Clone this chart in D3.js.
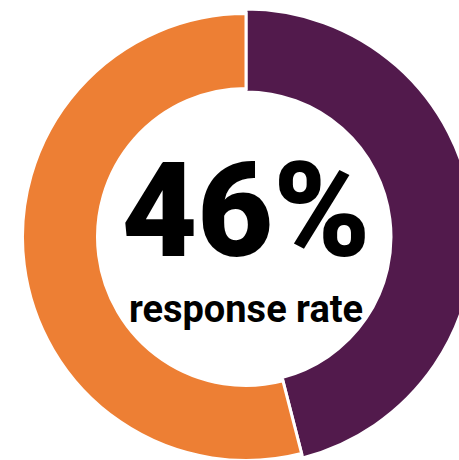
<!DOCTYPE html>
<html>
<head>
<meta charset="utf-8">
<script src="https://cdn.jsdelivr.net/npm/d3@7"></script>
<style>
  html, body { margin: 0; padding: 0; background: #fff; }
  svg { display: block; }
</style>
</head>
<body>
<script>
// slices, in drawing order (clockwise from 12 o'clock)
var categories = ['Responded', 'Did not respond']
var values = [46, 54]
var headline = '46%'
var caption = 'response rate'

var width = 459, height = 460
var cx = 246, cy = 237

var colors = d3.scaleOrdinal().domain(categories).range(['#521a4c', '#ed7f34'])

// the responded slice is drawn a bit wider than the rest
var radii = {
  'Responded': {inner: 145, outer: 228},
  'Did not respond': {inner: 148.5, outer: 223.5}
}

var svg = d3.select('body').append('svg')
    .attr('width', width).attr('height', height)

var g = svg.append('g').attr('transform', 'translate(' + cx + ',' + cy + ')')

var pie = d3.pie().sort(null).value(function(d){ return d.value })
var data = categories.map(function(c, i){ return {cat: c, value: values[i]} })

var arc = d3.arc()
    .innerRadius(function(d){ return radii[d.data.cat].inner })
    .outerRadius(function(d){ return radii[d.data.cat].outer })

g.selectAll('path')
  .data(pie(data))
  .enter()
  .append('path')
    .attr('d', arc)
    .attr('fill', function(d){ return colors(d.data.cat) })
    .attr('stroke', '#fff')
    .attr('stroke-width', 3)

g.append('text')
    .attr('x', 0).attr('y', 19)
    .attr('text-anchor', 'middle')
    .style('font-family', 'Roboto, "Open Sans", sans-serif')
    .style('font-weight', 900)
    .style('font-size', '131px')
    .attr('fill', '#000')
    .text(headline)

g.append('text')
    .attr('x', 0).attr('y', 85)
    .attr('text-anchor', 'middle')
    .style('font-family', 'Roboto, "Open Sans", sans-serif')
    .style('font-weight', 700)
    .style('font-size', '38px')
    .attr('fill', '#000')
    .text(caption)
</script>
</body>
</html>
